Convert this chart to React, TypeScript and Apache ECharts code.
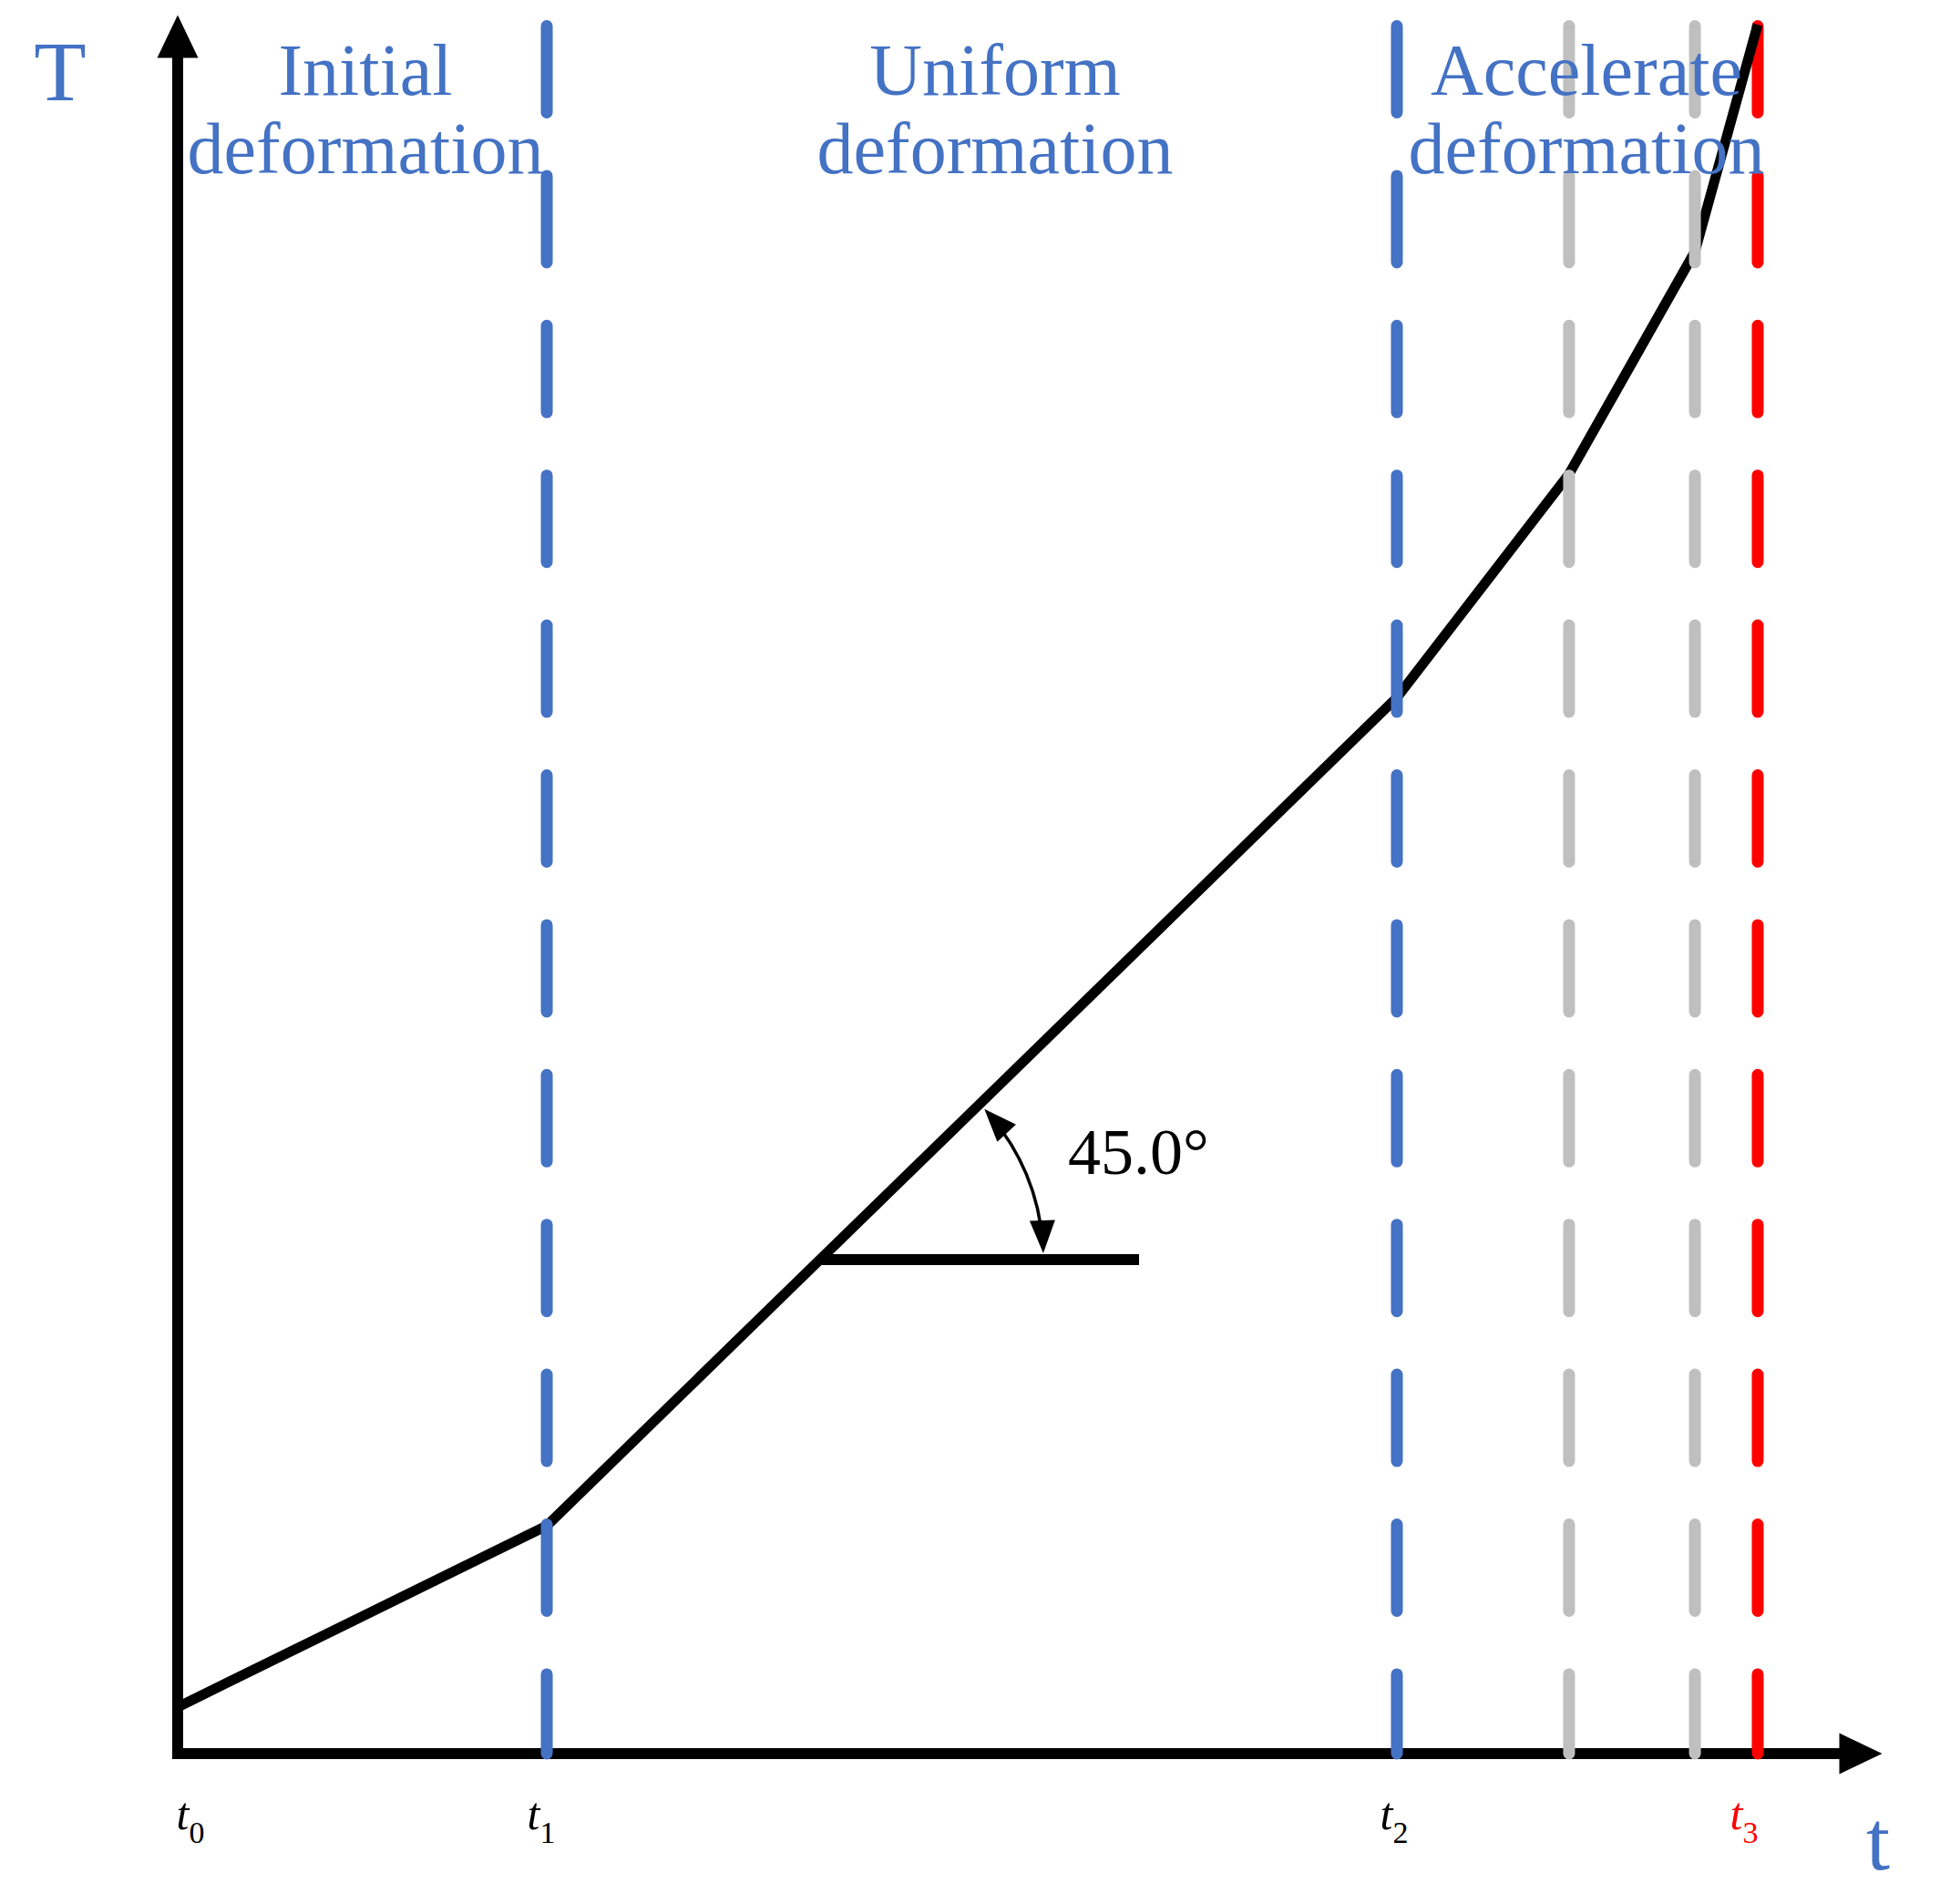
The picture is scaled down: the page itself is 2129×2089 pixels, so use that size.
import React, { useEffect, useRef } from "react";
import * as echarts from "echarts";

// ---- data (axis units: time 0..100, T 0..100) ----
const curveTime = [0, 21.93, 72.44, 82.67, 90.15, 93.88];
const curveValue = [2.71, 13.27, 61.5, 74.52, 87.47, 100.69];

const markerTimes = [21.93, 72.44, 82.67, 90.15, 93.88];
const markerColors = ["#4472C4", "#4472C4", "#BFBFBF", "#BFBFBF", "#FF0000"];
const markerTop = 100.61;

const tickValues = [0, 21.93, 72.44, 93.88];
const tickSubscripts = ["0", "1", "2", "3"];
const tickColors = ["#000000", "#000000", "#000000", "#FF0000"];

const phaseTitles = ["Initial\ndeformation", "Uniform\ndeformation", "Accelerate\ndeformation"];

const angleVertex = [38.28, 28.77];
const angleArmEnd = 57.12;
const angleLabel = "45.0°";

const yAxisName = "T";
const xAxisName = "t";

const SERIF = "'Liberation Serif', 'Times New Roman', serif";
const BLUE = "#4472C4";

export default function App() {
  const ref = useRef<HTMLDivElement>(null);

  useEffect(() => {
    if (!ref.current) return;
    const chart = echarts.init(ref.current, null, { renderer: "svg" });

    const rich: Record<string, any> = {};
    const padT = [[0, 0, 0, 28], [0, 0, 0, 0], [0, 0, 0, 0], [0, 0, 0, 0]];
    const padS = [[0, 0, 0, 0], [0, 12, 0, 0], [0, 6, 0, 0], [0, 30, 0, 0]];
    tickValues.forEach((_, i) => {
      rich["t" + i] = {
        fontFamily: SERIF,
        fontStyle: "italic",
        fontSize: 50,
        lineHeight: 74,
        color: tickColors[i],
        verticalAlign: "middle",
        padding: padT[i],
      };
      rich["s" + i] = {
        fontFamily: SERIF,
        fontSize: 34,
        lineHeight: 34,
        color: tickColors[i],
        verticalAlign: "bottom",
        padding: padS[i],
      };
    });

    const markerSeries = markerTimes.map((t, i) => ({
      type: "line",
      data: [
        [t, markerTop],
        [t, 0],
      ],
      symbol: "none",
      silent: true,
      clip: false,
      z: i === 4 ? 1 : 3,
      lineStyle: { color: markerColors[i], width: 13, type: [95, 69.4], cap: "round" },
    }));

    chart.setOption({
      animation: false,
      backgroundColor: "#ffffff",
      grid: { left: 195, top: 40, width: 1847, height: 1884 },
      xAxis: {
        type: "value",
        min: 0,
        max: 100,
        axisLine: {
          show: true,
          onZero: false,
          symbol: ["none", "triangle"],
          symbolSize: [45, 47],
          lineStyle: { color: "#000", width: 12, cap: "square" },
        },
        axisTick: { show: false },
        splitLine: { show: false },
        axisLabel: {
          show: true,
          customValues: tickValues,
          margin: 29,
          formatter: (val: number) => {
            let idx = 0;
            let best = Infinity;
            tickValues.forEach((tv, i) => {
              const d = Math.abs(tv - val);
              if (d < best) {
                best = d;
                idx = i;
              }
            });
            return `{t${idx}|t}{s${idx}|${tickSubscripts[idx]}}`;
          },
          rich,
        },
      },
      yAxis: {
        type: "value",
        min: 0,
        max: 100,
        axisLine: {
          show: true,
          onZero: false,
          symbol: ["none", "triangle"],
          symbolSize: [45, 47],
          lineStyle: { color: "#000", width: 12, cap: "square" },
        },
        axisTick: { show: false },
        splitLine: { show: false },
        axisLabel: { show: false },
      },
      series: [
        ...markerSeries.filter((_, i) => i === 4),
        {
          type: "line",
          data: curveTime.map((t, i) => [t, curveValue[i]]),
          symbol: "none",
          silent: true,
          clip: false,
          z: 2,
          lineStyle: { color: "#000", width: 11 },
        },
        {
          type: "line",
          data: [
            [angleVertex[0], angleVertex[1]],
            [angleArmEnd, angleVertex[1]],
          ],
          symbol: "none",
          silent: true,
          clip: false,
          z: 2,
          lineStyle: { color: "#000", width: 12 },
        },
        ...markerSeries.filter((_, i) => i !== 4),
      ],
    });

    // annotation: arc with arrows, computed from the axis scales
    const v = chart.convertToPixel({ gridIndex: 0 }, angleVertex) as number[];
    const p1 = chart.convertToPixel({ gridIndex: 0 }, [curveTime[1], curveValue[1]]) as number[];
    const p2 = chart.convertToPixel({ gridIndex: 0 }, [curveTime[2], curveValue[2]]) as number[];
    const ang = Math.atan2(p2[1] - p1[1], p2[0] - p1[0]);
    const R = 243;
    const L = 36;
    const AW = 28;
    const aLow = -7 / R;
    const aUp = ang + 6 / R;

    const tipLow = [v[0] + R * Math.cos(aLow), v[1] + R * Math.sin(aLow)];
    const dirLow = [-Math.sin(aLow), Math.cos(aLow)];
    const perpLow = [Math.cos(aLow), Math.sin(aLow)];
    const baseLow = [tipLow[0] - dirLow[0] * L, tipLow[1] - dirLow[1] * L];

    const tipUp = [v[0] + R * Math.cos(aUp), v[1] + R * Math.sin(aUp)];
    const dirUp = [Math.sin(aUp), -Math.cos(aUp)];
    const perpUp = [Math.cos(aUp), Math.sin(aUp)];
    const baseUp = [tipUp[0] - dirUp[0] * L, tipUp[1] - dirUp[1] * L];

    const tri = (tip: number[], base: number[], perp: number[]) => [
      tip,
      [base[0] + (perp[0] * AW) / 2, base[1] + (perp[1] * AW) / 2],
      [base[0] - (perp[0] * AW) / 2, base[1] - (perp[1] * AW) / 2],
    ];

    const phaseX = [401, 1092, 1741];

    chart.setOption({
      graphic: [
        {
          type: "arc",
          silent: true,
          shape: {
            cx: v[0],
            cy: v[1],
            r: R,
            startAngle: aUp + (L * 0.8) / R,
            endAngle: aLow - (L * 0.8) / R,
            clockwise: true,
          },
          style: { stroke: "#000", lineWidth: 3.5, fill: null },
          z: 10,
        },
        { type: "polygon", silent: true, shape: { points: tri(tipLow, baseLow, perpLow) }, style: { fill: "#000" }, z: 10 },
        { type: "polygon", silent: true, shape: { points: tri(tipUp, baseUp, perpUp) }, style: { fill: "#000" }, z: 10 },
        {
          type: "text",
          silent: true,
          x: 1172,
          y: 1264,
          style: { text: angleLabel, fontFamily: SERIF, fontSize: 72, fill: "#000", align: "left", verticalAlign: "middle" },
          z: 10,
        },
        {
          type: "text",
          silent: true,
          x: 66,
          y: 78,
          style: { text: yAxisName, fontFamily: SERIF, fontSize: 94, fill: BLUE, align: "center", verticalAlign: "middle" },
          z: 10,
        },
        {
          type: "text",
          silent: true,
          x: 2061,
          y: 2019,
          style: { text: xAxisName, fontFamily: SERIF, fontSize: 94, fill: BLUE, align: "center", verticalAlign: "middle" },
          z: 10,
        },
        ...phaseTitles.map((txt, i) => ({
          type: "text",
          silent: true,
          x: phaseX[i],
          y: 34,
          style: {
            text: txt,
            fontFamily: SERIF,
            fontSize: 80,
            lineHeight: 86,
            fill: BLUE,
            align: "center",
            verticalAlign: "top",
          },
          z: 10,
        })),
      ],
    });

    return () => chart.dispose();
  }, []);

  return (
    <div
      ref={ref}
      style={{ position: "fixed", left: 0, top: 0, width: 2129, height: 2089, background: "#fff" }}
    />
  );
}
